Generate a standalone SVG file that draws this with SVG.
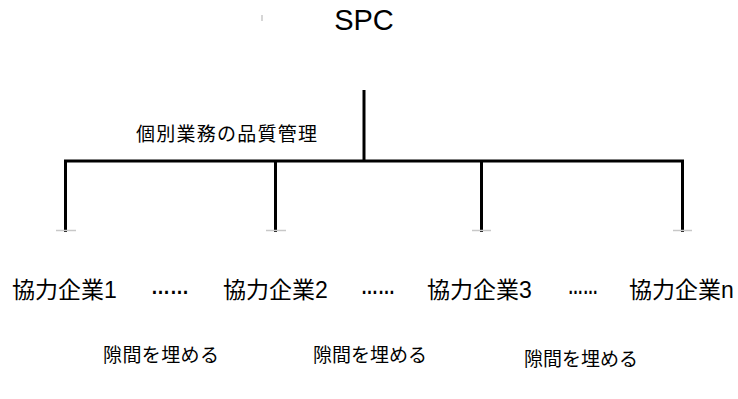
<svg xmlns="http://www.w3.org/2000/svg" width="738" height="399" viewBox="0 0 738 399">
<style>
.t{font-family:"Liberation Sans","Noto Sans CJK JP",sans-serif;fill:#000}
.d{font-family:"Liberation Sans","Noto Sans CJK JP",sans-serif;fill:#000;font-weight:bold}
.ln{stroke:#000;stroke-width:3;fill:none;stroke-linecap:butt}
.tick{stroke:#c8c8c8;stroke-width:1.5}
</style>
<rect width="738" height="399" fill="#fff"/>
<g id="connectors">
<line class="ln" x1="364" y1="90" x2="364" y2="161"/>
<polyline class="ln" points="65.5,232 65.5,161 682.5,161 682.5,232"/>
<line class="ln" x1="275.5" y1="161" x2="275.5" y2="232"/>
<line class="ln" x1="481.5" y1="161" x2="481.5" y2="232"/>
<line class="tick" x1="56" y1="230.5" x2="76" y2="230.5"/>
<line class="tick" x1="266" y1="230.5" x2="286" y2="230.5"/>
<line class="tick" x1="472" y1="230.5" x2="491" y2="230.5"/>
<line class="tick" x1="673" y1="230.5" x2="692" y2="230.5"/>
<line class="tick" x1="262" y1="15" x2="262" y2="21"/>
</g>
<g id="spc"><text class="t" x="364" y="30" font-size="29" text-anchor="middle">SPC</text></g>
<g id="label-quality"><text class="t" x="136" y="141" font-size="19" textLength="181" lengthAdjust="spacing">個別業務の品質管理</text></g>
<g id="company1"><text class="t" x="12" y="298" font-size="23">協力企業1</text></g>
<g id="dots1"><text class="d" x="151" y="294" font-size="22" textLength="38" lengthAdjust="spacingAndGlyphs">……</text></g>
<g id="company2"><text class="t" x="223" y="298" font-size="23">協力企業2</text></g>
<g id="dots2"><text class="d" x="361" y="294" font-size="22" textLength="34" lengthAdjust="spacingAndGlyphs">……</text></g>
<g id="company3"><text class="t" x="427" y="298" font-size="23">協力企業3</text></g>
<g id="dots3"><text class="d" x="568" y="294" font-size="22" textLength="30" lengthAdjust="spacingAndGlyphs">……</text></g>
<g id="companyn"><text class="t" x="629" y="298" font-size="23">協力企業n</text></g>
<g id="gap1"><text class="t" x="103" y="362" font-size="19" textLength="116" lengthAdjust="spacing">隙間を埋める</text></g>
<g id="gap2"><text class="t" x="313" y="362" font-size="19" textLength="114" lengthAdjust="spacing">隙間を埋める</text></g>
<g id="gap3"><text class="t" x="524" y="366" font-size="19" textLength="114" lengthAdjust="spacing">隙間を埋める</text></g>
</svg>
